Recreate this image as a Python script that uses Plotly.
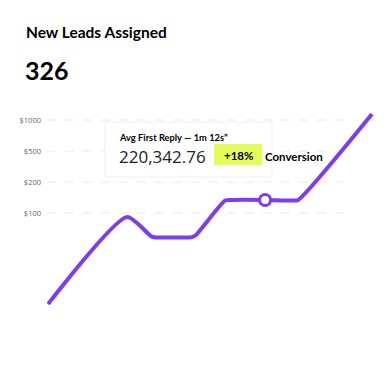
import plotly.graph_objects as go

# ---- data ----
title_text = "New Leads Assigned"
kpi_value = "326"
tick_positions = [0, 1, 2, 3]
tick_labels = ["$100", "$200", "$500", "$1000"]
x_vals = [0, 2.2, 2.88, 3.05, 3.6, 4.0, 4.12, 4.92, 5.1, 6.03, 6.8, 6.95, 9]
y_vals = [-2.94, -0.13, -0.76, -0.79, -0.79, -0.78, -0.7, 0.40, 0.42, 0.42, 0.40, 0.42, 3.19]
highlight_x = [6.03]
highlight_y = [0.42]
info_title = "Avg First Reply — 1m 12s”"
info_value = "220,342.76"
info_badge = "+18%"
info_badge_label = "Conversion"

PURPLE = "#7b3cf2"

W, H = 392, 370
L, R, T, B = 47, 10, 100, 50
PW, PH = W - L - R, H - T - B


def px(x):
    return (x - L) / PW


def py(y):
    return (H - B - y) / PH


fig = go.Figure()
fig.add_trace(go.Scatter(
    x=x_vals, y=y_vals, mode="lines",
    line=dict(color=PURPLE, width=4, shape="spline", smoothing=0.6),
    hoverinfo="skip", showlegend=False,
))
fig.add_trace(go.Scatter(
    x=highlight_x, y=highlight_y, mode="markers",
    marker=dict(size=11, color="white", line=dict(color=PURPLE, width=3)),
    hoverinfo="skip", showlegend=False,
))

shapes = []
for tv in tick_positions:
    shapes.append(dict(type="line", xref="paper", yref="y", x0=0, x1=px(343),
                       y0=tv, y1=tv, layer="below",
                       line=dict(color="#e8e8e8", width=1, dash="dash")))
shapes.append(dict(type="rect", xref="paper", yref="paper",
                   x0=px(105), x1=px(272), y0=py(177), y1=py(122),
                   fillcolor="white", line=dict(color="#f0f0f0", width=1), layer="below"))
shapes.append(dict(type="rect", xref="paper", yref="paper",
                   x0=px(214), x1=px(262), y0=py(165), y1=py(144),
                   fillcolor="#e5fb5a", line=dict(width=0), layer="below"))

annotations = [
    dict(text=f"<b>{title_text}</b>", x=px(24), y=py(32), xanchor="left", yanchor="middle",
         font=dict(family="Lato", size=15.5, color="#000")),
    dict(text=f"<b>{kpi_value}</b>", x=px(23), y=py(70), xanchor="left", yanchor="middle",
         font=dict(family="Lato", size=25, color="#000")),
    dict(text=f"<b>{info_title}</b>", x=px(117), y=py(137), xanchor="left", yanchor="middle",
         font=dict(family="Lato", size=9.3, color="#000")),
    dict(text=info_value, x=px(117), y=py(156), xanchor="left", yanchor="middle",
         font=dict(family="Open Sans", size=17, color="#222")),
    dict(text=f"<b>{info_badge}</b>", x=px(238), y=py(155), xanchor="center", yanchor="middle",
         font=dict(family="Lato", size=11.5, color="#000")),
    dict(text=f"<b>{info_badge_label}</b>", x=px(263), y=py(156), xanchor="left", yanchor="middle",
         font=dict(family="Lato", size=11.5, color="#000")),
]
for a in annotations:
    a.update(xref="paper", yref="paper", showarrow=False)

fig.update_layout(
    width=W, height=H,
    margin=dict(l=L, r=R, t=T, b=B),
    paper_bgcolor="white", plot_bgcolor="white",
    shapes=shapes, annotations=annotations,
    xaxis=dict(range=[-1 / 36, (W - R - 48) / 36], visible=False, fixedrange=True),
    yaxis=dict(range=[(213 - (H - B)) / 31, (213 - T) / 31],
               tickvals=tick_positions, ticktext=tick_labels,
               showgrid=False, zeroline=False, showline=False, ticks="",
               ticklabelstandoff=5,
               tickfont=dict(family="Open Sans", size=7.5, color="#666"), fixedrange=True),
)

fig.write_html(
    "out.html",
    config={"displayModeBar": False},
    post_script="document.body.style.margin='0';document.body.style.overflow='hidden';",
)
